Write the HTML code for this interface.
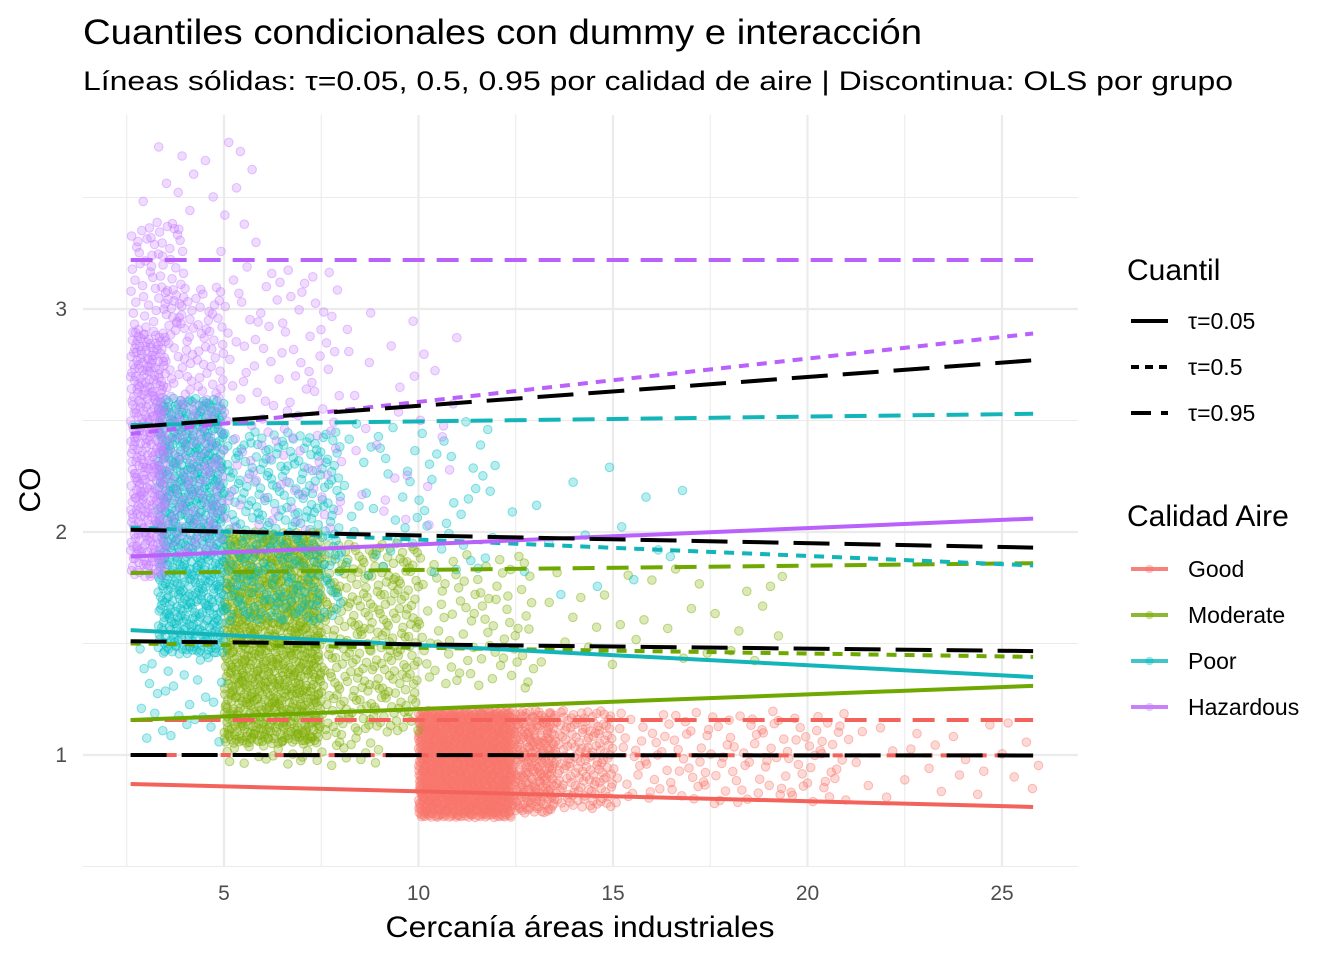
<!DOCTYPE html>
<html><head><meta charset="utf-8"><style>
body{margin:0;background:#fff;font-family:"Liberation Sans",Arial,sans-serif}
svg text{font-family:"Liberation Sans",Arial,sans-serif}
</style></head><body>
<svg id="chart" width="1344" height="960">
<text x="83" y="44" font-size="35" textLength="839" lengthAdjust="spacingAndGlyphs" fill="#000">Cuantiles condicionales con dummy e interacción</text>
<text x="83" y="90" font-size="27" textLength="1150" lengthAdjust="spacingAndGlyphs" fill="#000">Líneas sólidas: τ=0.05, 0.5, 0.95 por calidad de aire | Discontinua: OLS por grupo</text>
<g id="grid"></g>
<g id="points"></g>
<g id="lines"></g>
<g id="axes"></g>
<text x="580" y="937" font-size="30" textLength="389" lengthAdjust="spacingAndGlyphs" text-anchor="middle">Cercanía áreas industriales</text>
<text transform="translate(40,490) rotate(-90)" font-size="30" text-anchor="middle">CO</text>
<g>
<text x="1127" y="280" font-size="30">Cuantil</text>
<line x1="1131" y1="321" x2="1168" y2="321" stroke="#000" stroke-width="4"/>
<text x="1188" y="329" font-size="23">τ=0.05</text>
<line x1="1131" y1="367" x2="1168" y2="367" stroke="#000" stroke-width="4" stroke-dasharray="8,6"/>
<text x="1188" y="375" font-size="23">τ=0.5</text>
<line x1="1131" y1="413" x2="1168" y2="413" stroke="#000" stroke-width="4" stroke-dasharray="20,10"/>
<text x="1188" y="421" font-size="23">τ=0.95</text>
</g>
<g id="legend2">
<text x="1127" y="526" font-size="30">Calidad Aire</text>
</g>
</svg>
<script>
const groups=["Good","Moderate","Poor","Hazardous"];
const colors=["#F8766D","#7CAE00","#00BFC4","#C77CFF"];
const lineColors=["#F4635B","#6FA800","#14B5B8","#B961FA"];
const xStart=2.6, xEnd=25.8;
const q05Left=[0.87,1.157,1.56,1.89];
const q05Right=[0.767,1.31,1.35,2.06];
const q50Left=[1.0,1.5,2.02,2.44];
const q50Right=[0.998,1.44,1.85,2.89];
const q95Left=[1.157,1.816,2.48,3.22];
const q95Right=[1.157,1.86,2.53,3.22];
const olsLeft=[1.0,1.51,2.01,2.47];
const olsRight=[0.998,1.466,1.93,2.77];
// point density regions: group index, xmin, xmax, ymin, ymax, count
const regionGroup=[0,0,0,0,0, 1,1,1,1,1, 2,2,2,2,2, 3,3,3,3,3,3];
const regionX0=[10,12.4,13.5,15,21, 5,7.5,10,13,5, 3.3,5,8,2.8,12, 2.6,2.6,3.5,5,8,2.8];
const regionX1=[12.4,13.5,15,21,26, 7.5,10,13,19.5,9, 5,8,12,5,17, 3.5,4,5,8,11,6];
const regionY0=[0.72,0.74,0.76,0.78,0.8, 1.05,1.1,1.3,1.4,0.95, 1.45,1.6,1.8,1.05,1.7, 1.8,2.9,1.9,2.0,2.0,3.2];
const regionY1=[1.2,1.2,1.2,1.2,1.15, 2.0,1.95,1.9,1.85,1.1, 2.6,2.45,2.5,1.5,2.3, 2.9,3.4,3.1,3.2,3.0,3.75];
const regionN=[1300,250,150,130,25, 950,280,80,30,40, 650,280,60,30,15, 350,60,180,110,30,20];
const xTicks=[5,10,15,20,25];
const yTicks=[1,2,3];

const NS="http://www.w3.org/2000/svg";
const X=v=>29.5+v*38.9, Y=v=>978-v*223;
const PL=83,PR=1078,PT=115,PB=867;
function mk(tag,attrs,parent){const e=document.createElementNS(NS,tag);for(const k in attrs)e.setAttribute(k,attrs[k]);parent.appendChild(e);return e;}
const grid=document.getElementById('grid');
for(let v=2.5;v<=27.5;v+=2.5){const px=X(v);if(px<PL||px>PR)continue;
 const l=mk('line',{x1:px,x2:px,y1:PT,y2:PB,stroke:'#ebebeb','stroke-width':v%5===0?2.2:1.1},grid);
 
 }
for(let v=0.5;v<=4;v+=0.5){const py=Y(v);if(py<PT-1||py>PB+1)continue;
 const l=mk('line',{x1:PL,x2:PR,y1:py,y2:py,stroke:'#ebebeb','stroke-width':v%1===0?2.2:1.1},grid);
 
 }
function halton(i,b){let f=1,r=0;while(i>0){f/=b;r+=f*(i%b);i=Math.floor(i/b);}return r;}
const pts=document.getElementById('points');
let idx=1;
for(let r=0;r<regionN.length;r++){const g=regionGroup[r];
 for(let k=0;k<regionN[r];k++){idx++;
  const x=regionX0[r]+(regionX1[r]-regionX0[r])*halton(idx,2);
  const y=regionY0[r]+(regionY1[r]-regionY0[r])*halton(idx,3);
  const c=mk('circle',{cx:X(x).toFixed(1),cy:Y(y).toFixed(1),r:4.3,fill:colors[g],'fill-opacity':0.28,stroke:colors[g],'stroke-opacity':0.45,'stroke-width':1},pts);
  
  }}
const lines=document.getElementById('lines');
function ln(a,b,col,dash,name){const l=mk('line',{x1:X(xStart),x2:X(xEnd),y1:Y(a),y2:Y(b),stroke:col,'stroke-width':4},lines);
 if(dash)l.setAttribute('stroke-dasharray',dash);
 
 }
for(let g=0;g<4;g++){const n=groups[g].toLowerCase();
 ln(q95Left[g],q95Right[g],lineColors[g],'22,12','q95-line-'+n);
 ln(q50Left[g],q50Right[g],lineColors[g],'10,8','q50-line-'+n);
 ln(q05Left[g],q05Right[g],lineColors[g],null,'q05-line-'+n);}
for(let g=0;g<4;g++){ln(olsLeft[g],olsRight[g],'#000','36,15','ols-line-'+groups[g].toLowerCase());}
const axes=document.getElementById('axes');
xTicks.forEach(v=>{const t=mk('text',{x:X(v),y:900,'font-size':21,fill:'#4d4d4d','text-anchor':'middle'},axes);t.textContent=v;
 
 });
yTicks.forEach(v=>{const t=mk('text',{x:67,y:Y(v)+7,'font-size':21,fill:'#4d4d4d','text-anchor':'end'},axes);t.textContent=v;
 
 });
const lg=document.getElementById('legend2');
groups.forEach((n,i)=>{const y=569+46*i;
 const l=mk('line',{x1:1131,x2:1168,y1:y,y2:y,stroke:lineColors[i],'stroke-width':4,'stroke-opacity':0.8},lg);
 
 
 const c=mk('circle',{cx:1149.5,cy:y,r:4.3,fill:colors[i],'fill-opacity':0.4},lg);
 
 
 const t=mk('text',{x:1188,y:y+8,'font-size':23},lg);t.textContent=n;
 
 });
</script>
</body></html>
